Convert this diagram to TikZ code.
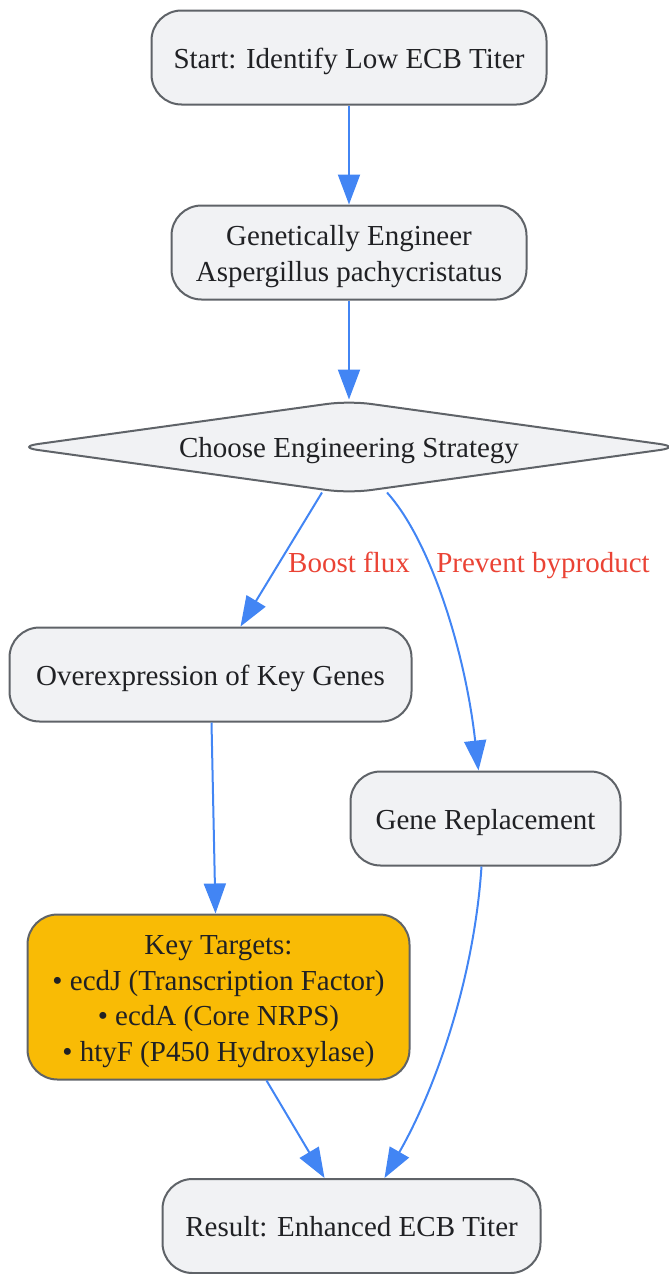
\documentclass[tikz,border=0pt]{standalone}
\usepackage{fontspec}
\setmainfont{Liberation Serif}
\usetikzlibrary{shapes.geometric, arrows.meta}
\definecolor{nodefill}{HTML}{F1F2F4}
\definecolor{nodeline}{HTML}{5F6368}
\definecolor{txt}{HTML}{202124}
\definecolor{edgeblue}{HTML}{4285F4}
\definecolor{lblred}{HTML}{EA4335}
\definecolor{keyfill}{HTML}{F9BB05}
\newcommand{\mystrut}{\rule[-6.5pt]{0pt}{34.6pt}}
\begin{document}
\begin{tikzpicture}[x=1pt,y=-1pt,
  box/.style={draw=nodeline, line width=2pt, fill=nodefill, rounded corners=30pt, inner sep=0pt, text=txt, align=center, font=\fontsize{29}{35.6}\selectfont},
  decision/.style={diamond, draw=nodeline, line width=2pt, fill=nodefill, rounded corners=22pt, inner sep=0pt, aspect=7, text=txt, font=\fontsize{29}{35.6}\selectfont},
  flow/.style={draw=edgeblue, line width=2pt, -{Triangle[length=30pt,width=22pt]}},
  lbl/.style={text=lblred, font=\fontsize{29}{35}\selectfont, inner sep=0pt, text height=20pt, text depth=0pt}]
\useasboundingbox (0,0) rectangle (669,1274);
\node[box, minimum width=395pt, minimum height=94pt] (start) at (349,57.5) {\mystrut Start: Identify Low ECB Titer};
\node[box, minimum width=355pt, minimum height=94pt] (gen) at (349,252.5) {\mystrut Genetically Engineer\\\mystrut Aspergillus pachycristatus};
\node[decision, minimum width=666pt, minimum height=93pt] (choose) at (349,447) {\mystrut Choose Engineering Strategy};
\node[box, minimum width=402pt, minimum height=94pt] (over) at (210.5,674.5) {\mystrut Overexpression of Key Genes};
\node[box, minimum width=270pt, minimum height=94pt] (gene) at (485.5,818.5) {\mystrut Gene Replacement};
\node[box, fill=keyfill, minimum width=382pt, minimum height=165pt] (key) at (218.5,997) {\mystrut Key Targets:\\\mystrut • ecdJ (Transcription Factor)\\\mystrut • ecdA (Core NRPS)\\\mystrut • htyF (P450 Hydroxylase)};
\node[box, minimum width=378pt, minimum height=94pt] (result) at (351.5,1226) {\mystrut Result: Enhanced ECB Titer};
\node[lbl] (lflux) at (349,562) {Boost flux};
\node[lbl] (lprev) at (543,562) {Prevent byproduct};
\draw[flow] (start.south) -- (gen.north);
\draw[flow] (gen.south) -- (choose.north);
\draw[flow] ([xshift=-27pt,yshift=2pt]choose.south) -- ([xshift=30pt]over.north);
\draw[flow] ([xshift=38pt,yshift=2pt]choose.south) .. controls (430,540) and (465,650) .. ([xshift=-7pt]gene.north);
\draw[flow] ([xshift=1pt]over.south) -- ([xshift=-3pt]key.north);
\draw[flow] ([xshift=48pt]key.south) -- ([xshift=-27pt]result.north);
\draw[flow] ([xshift=-4pt]gene.south) .. controls (474,980) and (435,1090) .. ([xshift=33pt]result.north);
\end{tikzpicture}
\end{document}
